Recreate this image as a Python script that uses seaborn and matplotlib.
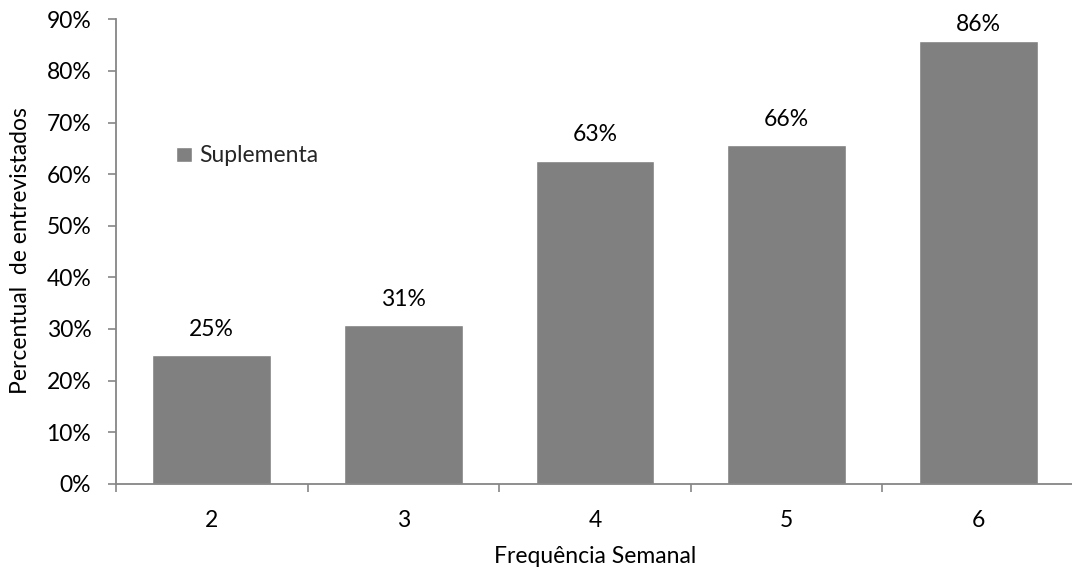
import matplotlib
matplotlib.use("Agg")
import matplotlib.pyplot as plt
from matplotlib.ticker import PercentFormatter, FixedLocator
import seaborn as sns
import pandas as pd

categories = ["2", "3", "4", "5", "6"]
values = [24.9, 30.7, 62.6, 65.6, 85.7]
series_name = "Suplementa"
y_label = "Percentual  de entrevistados"
x_label = "Frequência Semanal"

sns.set_theme(style="white")
plt.rcParams["font.family"] = ["Lato", "DejaVu Sans"]

df = pd.DataFrame({"freq": categories, "pct": values})

fig = plt.figure(figsize=(10.72, 5.74), dpi=100)
ax = fig.add_axes([116 / 1072, 1 - 483.7 / 574, 958 / 1072, (483.7 - 19.3) / 574])

sns.barplot(data=df, x="freq", y="pct", color="#808080", saturation=1,
            width=0.62, label=series_name, ax=ax)

ax.set_ylim(0, 90)
ax.set_xlim(-0.5, 4.5)
ax.yaxis.set_major_locator(FixedLocator(range(0, 91, 10)))
ax.yaxis.set_major_formatter(PercentFormatter(decimals=0))

for s in ["top", "right"]:
    ax.spines[s].set_visible(False)
for s in ["left", "bottom"]:
    ax.spines[s].set_color("#868686")
    ax.spines[s].set_linewidth(1.3)

fs = 16.5
ax.tick_params(axis="y", which="major", direction="out", length=5.8, width=1.2,
               color="#868686", pad=12, labelsize=fs, labelcolor="black", left=True)
ax.tick_params(axis="x", which="major", length=0, pad=19, labelsize=fs, labelcolor="black")
ax.set_xticks([i - 0.5 for i in range(len(categories) + 1)], minor=True)
ax.tick_params(axis="x", which="minor", direction="out", length=5.8, width=1.2,
               color="#868686", bottom=True)

labels = [f"{round(v):d}%" for v in values]
anns = ax.bar_label(ax.containers[0], labels=labels, padding=11, fontsize=fs, color="black")
# the tallest label is squeezed closer to its bar (fits under the plot top)
anns[-1].xyann = (0, 5)

ax.set_ylabel(y_label, fontsize=fs, color="black")
ax.yaxis.set_label_coords(-0.089, 0.503)
ax.set_xlabel(x_label, fontsize=fs, color="black")
ax.xaxis.set_label_coords(0.5, -0.134)

ax.legend(loc="center left", bbox_to_anchor=(0.0626, 0.706), frameon=False,
          fontsize=fs, borderpad=0, borderaxespad=0, handlelength=0.68,
          handleheight=0.65, handletextpad=0.35)

fig.savefig("out.png", dpi=100)
